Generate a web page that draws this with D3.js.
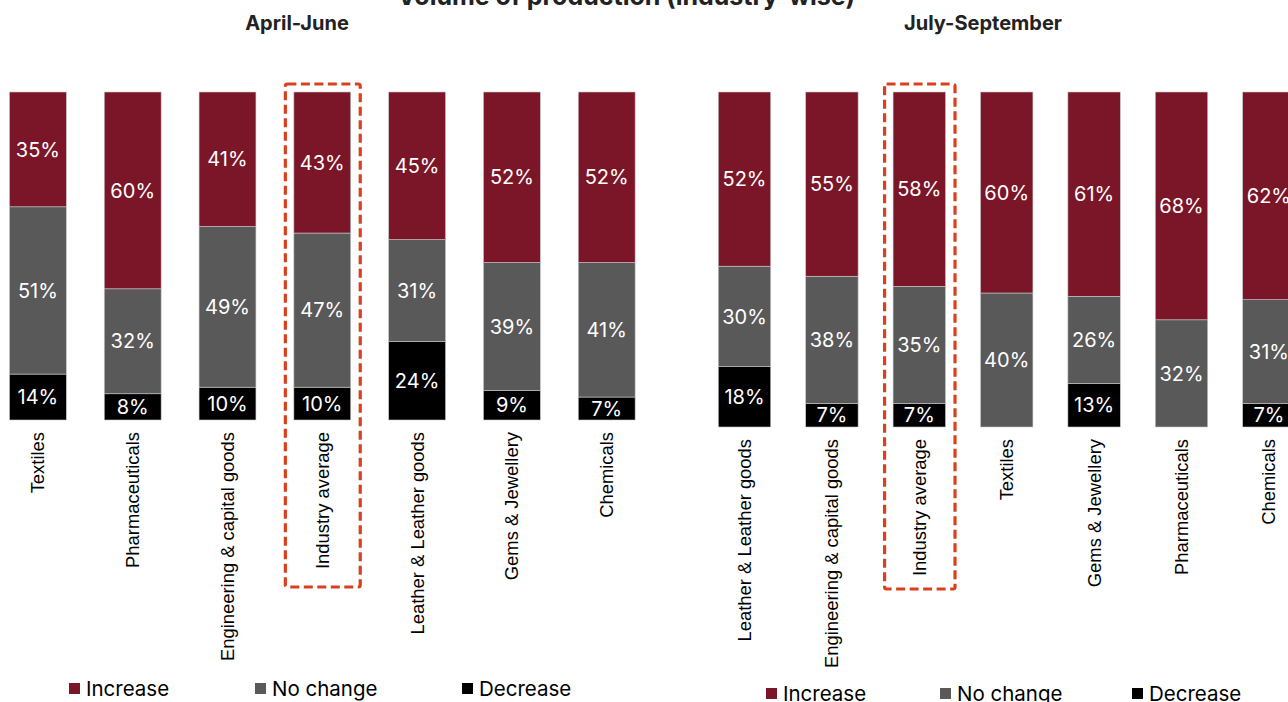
<!DOCTYPE html>
<html>
<head>
<meta charset="utf-8">
<script src="https://cdn.jsdelivr.net/npm/d3@7"></script>
<style>
  html, body { margin: 0; padding: 0; background: #fff; overflow: hidden; }
</style>
</head>
<body>
<div id="chart"></div>
<script>
const seriesKeys = ["decrease", "nochange", "increase"];
const seriesNames = { increase: "Increase", nochange: "No change", decrease: "Decrease" };
const colors = { increase: "#7b1628", nochange: "#595959", decrease: "#000000" };

// April-June
const q1Categories = ["Textiles", "Pharmaceuticals", "Engineering & capital goods", "Industry average",
  "Leather & Leather goods", "Gems & Jewellery", "Chemicals"];
const q1Increase = [35, 60, 41, 43, 45, 52, 52];
const q1NoChange = [51, 32, 49, 47, 31, 39, 41];
const q1Decrease = [14, 8, 10, 10, 24, 9, 7];

// July-September
const q2Categories = ["Leather & Leather goods", "Engineering & capital goods", "Industry average", "Textiles",
  "Gems & Jewellery", "Pharmaceuticals", "Chemicals"];
const q2Increase = [52, 55, 58, 60, 61, 68, 62];
const q2NoChange = [30, 38, 35, 40, 26, 32, 31];
const q2Decrease = [18, 7, 7, 0, 13, 0, 7];

const width = 1288, height = 702;
const svg = d3.select("#chart").append("svg")
  .attr("width", width)
  .attr("height", height);

const font = "Inter, Roboto, sans-serif";
const labelFont = "'Liberation Sans', Arial, sans-serif";

svg.append("text")
  .attr("x", 626).attr("y", 5)
  .attr("text-anchor", "middle")
  .attr("font-family", font)
  .attr("font-weight", "bold")
  .attr("font-size", "25px")
  .attr("fill", "#222")
  .text("Volume of production (industry-wise)");

function drawPanel(opts) {
  const rows = opts.categories.map((c, i) => ({
    category: c,
    increase: opts.increase[i],
    nochange: opts.nochange[i],
    decrease: opts.decrease[i]
  }));

  const x = d3.scaleBand()
    .domain(opts.categories)
    .range(opts.xRange)
    .paddingInner(0.4)
    .paddingOuter(0.2);

  const y = d3.scaleLinear().domain([0, 100]).range([opts.bottom, 92]);

  const stacked = d3.stack().keys(seriesKeys)(rows);

  const g = svg.append("g");

  g.append("text")
    .attr("x", opts.titleX).attr("y", 30)
    .attr("text-anchor", "middle")
    .attr("font-family", font)
    .attr("font-weight", "bold")
    .attr("font-size", "20px")
    .attr("fill", "#222")
    .text(opts.title);

  const layer = g.selectAll("g.layer")
    .data(stacked)
    .enter().append("g")
    .attr("class", "layer")
    .attr("fill", d => colors[d.key]);

  layer.selectAll("rect")
    .data(d => d.filter(s => s[1] - s[0] > 0))
    .enter().append("rect")
    .attr("x", d => x(d.data.category))
    .attr("y", d => y(d[1]))
    .attr("width", x.bandwidth())
    .attr("height", d => y(d[0]) - y(d[1]))
    .attr("stroke", "#c8c8c8")
    .attr("stroke-width", 0.6);

  layer.selectAll("text")
    .data(d => d.filter(s => s[1] - s[0] > 0))
    .enter().append("text")
    .attr("x", d => x(d.data.category) + x.bandwidth() / 2)
    .attr("y", d => (y(d[0]) + y(d[1])) / 2)
    .attr("dy", "0.36em")
    .attr("text-anchor", "middle")
    .attr("font-family", font)
    .attr("font-size", "20px")
    .attr("fill", "#fff")
    .text(d => (d[1] - d[0]) + "%");

  g.selectAll("text.cat")
    .data(opts.categories)
    .enter().append("text")
    .attr("class", "cat")
    .attr("transform", d => `translate(${x(d) + x.bandwidth() / 2},${opts.bottom + 12}) rotate(-90)`)
    .attr("dy", "0.35em")
    .attr("text-anchor", "end")
    .attr("font-family", labelFont)
    .attr("font-size", "18.4px")
    .attr("fill", "#000")
    .text(d => d);

  // highlight box around industry average
  const hx = x("Industry average");
  g.append("rect")
    .attr("x", hx - 8.5)
    .attr("y", 84)
    .attr("width", x.bandwidth() + 18)
    .attr("height", opts.boxBottom - 84)
    .attr("rx", 2)
    .attr("fill", "none")
    .attr("stroke", "#d9411e")
    .attr("stroke-width", 3.2)
    .attr("stroke-dasharray", "9,4.5");

  // legend
  const legend = g.selectAll("g.legend")
    .data(["increase", "nochange", "decrease"])
    .enter().append("g")
    .attr("class", "legend")
    .attr("transform", (d, i) => `translate(${opts.legendX[i]},${opts.legendY})`);

  legend.append("rect")
    .attr("x", 0).attr("y", -11)
    .attr("width", 11).attr("height", 11)
    .attr("fill", d => colors[d]);

  legend.append("text")
    .attr("x", 17).attr("y", 0)
    .attr("dy", "0.08em")
    .attr("font-family", font)
    .attr("font-size", "20.5px")
    .attr("fill", "#000")
    .text(d => seriesNames[d]);
}

drawPanel({
  title: "April-June",
  titleX: 297,
  categories: q1Categories,
  increase: q1Increase,
  nochange: q1NoChange,
  decrease: q1Decrease,
  xRange: [-9.5, 654.1],
  bottom: 420,
  boxBottom: 587,
  legendX: [69, 255, 462],
  legendY: 694
});

drawPanel({
  title: "July-September",
  titleX: 983,
  categories: q2Categories,
  increase: q2Increase,
  nochange: q2NoChange,
  decrease: q2Decrease,
  xRange: [700.8, 1312.6],
  bottom: 427,
  boxBottom: 589,
  legendX: [766, 940, 1132],
  legendY: 699
});
</script>
</body>
</html>
